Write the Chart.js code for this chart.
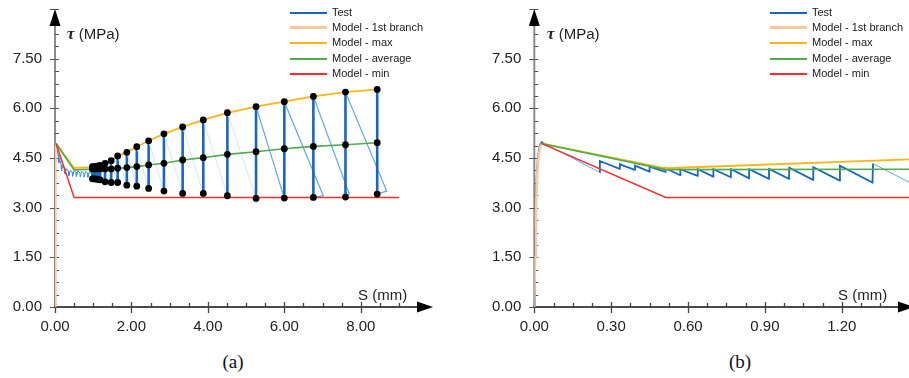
<!DOCTYPE html>
<html><head><meta charset="utf-8">
<script src="https://cdn.jsdelivr.net/npm/chart.js@4.4.1/dist/chart.umd.min.js"></script>
<style>
html,body{margin:0;padding:0;background:#fff;width:909px;height:378px;overflow:hidden;font-family:"Liberation Sans",Arial,sans-serif;}
canvas{position:absolute;top:0;}
#ca{left:0;} #cb{left:455px;}
.lbl{position:absolute;font-size:15px;line-height:18px;color:#222;white-space:nowrap;}
.lbl b{font-family:"Liberation Serif",serif;font-size:17px;}
.cap{position:absolute;font-family:"Liberation Serif","Times New Roman",serif;font-size:19px;line-height:22px;color:#111;transform:translateX(-50%);}
.leg{position:absolute;top:4.5px;font-size:11px;color:#222;}
.leg div{height:15.4px;line-height:15.4px;white-space:nowrap;}
.leg span.sw{display:inline-block;width:37px;vertical-align:middle;margin-right:5px;}
</style></head>
<body>
<canvas id="ca" width="455" height="345"></canvas>
<canvas id="cb" width="454" height="345"></canvas>

<div class="lbl" style="left:67px;top:25px;"><b><i>τ</i></b> (MPa)</div>
<div class="lbl" style="left:358px;top:286px;">S (mm)</div>
<div class="lbl" style="left:547px;top:25px;"><b><i>τ</i></b> (MPa)</div>
<div class="lbl" style="left:838px;top:286px;">S (mm)</div>
<div class="cap" style="left:233px;top:351px;">(a)</div>
<div class="cap" style="left:740px;top:351px;">(b)</div>

<div class="leg" id="lega" style="left:290px;"></div>
<div class="leg" id="legb" style="left:770px;"></div>

<script>
// ---------- shared model: first (elastic) branch ----------
const branchS = [0, 0.003, 0.006, 0.009, 0.012, 0.016, 0.021, 0.027];
const branchT = [0, 1.5, 2.6, 3.6, 4.1, 4.45, 4.75, 4.94];

// ---------- panel (a) ----------
const aXTicks = [0, 2, 4, 6, 8];
const yTicks = [0, 1.5, 3, 4.5, 6, 7.5];

const aCycleS = [0.98,1.03,1.08,1.13,1.18,1.31,1.47,1.64,1.88,2.14,2.45,2.85,3.34,3.88,4.51,5.26,6.00,6.76,7.60,8.43];
const aTauMax = [4.24,4.24,4.25,4.26,4.28,4.34,4.42,4.56,4.67,4.84,5.02,5.23,5.44,5.65,5.87,6.05,6.20,6.36,6.49,6.57];
const aTauAvg = [4.17,4.17,4.17,4.17,4.17,4.17,4.17,4.19,4.21,4.24,4.29,4.34,4.44,4.51,4.61,4.69,4.78,4.85,4.90,4.96];
const aTauMin = [3.87,3.87,3.86,3.85,3.84,3.78,3.76,3.76,3.68,3.65,3.58,3.50,3.43,3.43,3.36,3.28,3.29,3.31,3.32,3.41];

const aTestHeadS = [0,0.005,0.01,0.02,0.08,0.10,0.12,0.16,0.17,0.21,0.25,0.26,0.30,0.35,0.36,0.40,0.45,0.46,0.50,0.55,0.56,0.60,0.65,0.66,0.70,0.75,0.76,0.80,0.85,0.86,0.90,0.95];
const aTestHeadT = [0,2.5,4.3,4.95,4.62,4.35,4.48,4.30,4.12,4.28,4.18,4.02,4.18,4.10,3.96,4.13,4.07,3.95,4.12,4.06,3.94,4.11,4.05,3.93,4.10,4.04,3.92,4.10,4.04,3.92,4.09,4.03];
// overshoot reversal points of the last three cycles
const aOverS = [7.02, 7.70, 8.68];
const aOverT = [3.36, 3.41, 3.50];

const aMaxS = [0.027,0.5,0.98,1.18,1.31,1.47,1.64,1.88,2.14,2.45,2.85,3.34,3.88,4.51,5.26,6.00,6.76,7.60,8.43];
const aMaxT = [4.94,4.20,4.22,4.26,4.33,4.42,4.55,4.67,4.84,5.02,5.23,5.44,5.65,5.86,6.05,6.20,6.36,6.49,6.57];
const aAvgS = [0.027,0.5,0.98,1.47,1.88,2.14,2.45,2.85,3.34,3.88,4.51,5.26,6.00,6.76,7.60,8.43];
const aAvgT = [4.94,4.14,4.16,4.17,4.21,4.24,4.29,4.34,4.44,4.51,4.61,4.69,4.78,4.85,4.90,4.96];
const aMinS = [0.027,0.5,9.0];
const aMinT = [4.94,3.31,3.31];

// ---------- panel (b) ----------
const bXTicks = [0, 0.3, 0.6, 0.9, 1.2];
const bTestS = [0,0.002,0.004,0.006,0.009,0.013,0.018,0.024,0.030,0.035,
  0.255,0.256,0.333,0.334,0.392,0.393,0.449,0.450,0.511,0.512,0.569,0.570,0.637,0.638,0.698,0.699,
  0.767,0.768,0.838,0.839,0.915,0.916,0.994,0.995,1.088,1.089,1.192,1.193,1.320,1.322,1.47];
const bTestT = [0,1.2,2.4,3.3,3.9,4.4,4.75,4.93,4.98,4.96,
  4.07,4.41,4.17,4.31,4.14,4.27,4.09,4.24,4.08,4.19,3.98,4.16,3.96,4.16,3.94,4.16,
  3.92,4.16,3.89,4.16,3.87,4.17,3.87,4.21,3.84,4.22,3.82,4.27,3.76,4.33,3.74];
const bMaxS = [0.027,0.513,1.47];
const bMaxT = [4.94,4.19,4.46];
const bAvgS = [0.027,0.513,1.47];
const bAvgT = [4.94,4.15,4.16];
const bMinS = [0.027,0.513,1.47];
const bMinT = [4.94,3.31,3.31];

// ---------- styling ----------
const COL = {
  test:'#1766c2', testLight:'#58a9e8', testFaint:'#d2e6f8',
  branch:'#fbc79b', max:'#fdb515', avg:'#4dab4d', min:'#ff2b2b'
};
const FONT = '"Liberation Sans", Arial, sans-serif';

const pts = (xs, ys) => xs.map((v, i) => ({x: v, y: ys[i]}));

// build test path (a) from head + cycles
function buildTestA(){
  const s = aTestHeadS.slice(), t = aTestHeadT.slice();
  const n = aCycleS.length, k0 = n - aOverS.length;
  for (let i = 0; i < n; i++) {
    if (i >= k0) { s.push(aOverS[i-k0]); t.push(aOverT[i-k0]); }
    s.push(aCycleS[i]); t.push(aTauMin[i]);
    s.push(aCycleS[i]); t.push(aTauMax[i]);
  }
  return pts(s, t);
}
function dotsA(){
  const d = [];
  aCycleS.forEach((s, i) => { d.push({x:s,y:aTauMax[i]}, {x:s,y:aTauAvg[i]}, {x:s,y:aTauMin[i]}); });
  return d;
}

function segA(c){
  const x0 = c.p0.parsed.x, dx = c.p1.parsed.x - x0;
  if (Math.abs(dx) < 1e-9) return [COL.test, 2.6];
  if (x0 >= 0.97 && x0 < 5 && dx > 0) return [COL.testFaint, 1];
  if (x0 >= 5) return [COL.testLight, 1.2];
  return ['#3a8ddf', 1];
}
function segB(c){
  const dx = c.p1.parsed.x - c.p0.parsed.x;
  if (dx > 0.13) return [COL.testLight, 1];
  return [COL.test, 1.8];
}

const line = (data, color, width, order) => ({
  type:'line', data, borderColor: color, borderWidth: width, pointRadius: 0,
  fill: false, tension: 0, order
});

// axes with arrows and major/minor ticks, drawn from the chart's own scales
const axesPlugin = {
  id: 'axes',
  beforeDatasetsDraw(chart){
    const o = chart.options.plugins.axes;
    const {ctx, chartArea:{left, top, right, bottom}, scales:{x, y}} = chart;
    const tip = right + (o.arrowShift || 0);
    ctx.save();
    // y axis line
    ctx.strokeStyle = '#8c8c8c'; ctx.lineWidth = 2;
    ctx.beginPath(); ctx.moveTo(left, bottom + 1); ctx.lineTo(left, top + 16); ctx.stroke();
    // y ticks
    ctx.strokeStyle = '#555'; ctx.lineWidth = 1;
    for (let k = 0; k * o.yStep <= y.max + 1e-9; k++) {
      const py = Math.round(y.getPixelForValue(k * o.yStep)) + 0.5;
      const major = k % o.yRatio === 0;
      ctx.beginPath(); ctx.moveTo(left - (major ? 5 : 0), py); ctx.lineTo(left + 4, py); ctx.stroke();
    }
    // x axis line
    ctx.strokeStyle = '#4a4a4a'; ctx.lineWidth = 2;
    ctx.beginPath(); ctx.moveTo(left - 1, bottom); ctx.lineTo(tip - 14, bottom); ctx.stroke();
    ctx.lineWidth = 1.3; ctx.strokeStyle = '#444';
    for (let k = 0; k * o.xStep <= x.max - 0.4 * o.xStep; k++) {
      const px = Math.round(x.getPixelForValue(k * o.xStep)) + 0.5;
      if (px > tip - 16) break;
      const major = k % o.xRatio === 0;
      ctx.beginPath(); ctx.moveTo(px, bottom - (major ? 5 : 4)); ctx.lineTo(px, bottom + (major ? 6 : 1)); ctx.stroke();
    }
    // arrowheads
    ctx.fillStyle = '#000';
    ctx.beginPath(); ctx.moveTo(tip, bottom); ctx.lineTo(tip - 16, bottom - 5.5); ctx.lineTo(tip - 16, bottom + 5.5); ctx.closePath(); ctx.fill();
    ctx.beginPath(); ctx.moveTo(left, top); ctx.lineTo(left - 5.5, top + 17); ctx.lineTo(left + 5.5, top + 17); ctx.closePath(); ctx.fill();
    ctx.restore();
  }
};

function makeChart(id, cfg){
  return new Chart(document.getElementById(id), {
    type: 'line',
    data: { datasets: cfg.datasets },
    options: {
      responsive: false, animation: false, events: [],
      layout: { padding: { top: 9, right: cfg.padRight, left: 0, bottom: 0 } },
      plugins: { legend: { display: false }, tooltip: { enabled: false }, axes: cfg.axes },
      scales: {
        x: {
          type: 'linear', min: 0, max: cfg.xMax,
          grid: { display: false, drawTicks: false }, border: { display: false },
          afterBuildTicks: s => { s.ticks = cfg.xTicks.map(v => ({value: v})); },
          afterFit: s => { s.height = 38; s.paddingLeft = 0; s.paddingRight = 0; },
          ticks: { padding: 11, autoSkip: false, maxRotation: 0, color: '#222',
                   font: { family: FONT, size: 15 }, callback: v => Number(v).toFixed(2) }
        },
        y: {
          type: 'linear', min: 0, max: 9,
          grid: { display: false, drawTicks: false }, border: { display: false },
          afterBuildTicks: s => { s.ticks = yTicks.map(v => ({value: v})); },
          afterFit: s => { s.width = cfg.yWidth; s.paddingTop = 0; s.paddingBottom = 0; },
          ticks: { padding: 13, autoSkip: false, color: '#222',
                   font: { family: FONT, size: 15 }, callback: v => Number(v).toFixed(2) }
        }
      }
    },
    plugins: [axesPlugin]
  });
}

const segOpts = f => ({ borderColor: c => f(c)[0], borderWidth: c => f(c)[1] });

makeChart('ca', {
  xMax: 9.89, padRight: 22, yWidth: 55, xTicks: aXTicks,
  axes: { xStep: 0.5, xRatio: 4, yStep: 0.375, yRatio: 4, arrowShift: 0 },
  datasets: [
    { type:'scatter', data: dotsA(), pointRadius: 3.4, pointBackgroundColor: '#000', pointBorderWidth: 0, showLine: false, order: 0 },
    line(pts(aMinS, aMinT), COL.min, 1.5, 1),
    line(pts(aAvgS, aAvgT), COL.avg, 1.6, 2),
    line(pts(aMaxS, aMaxT), COL.max, 1.8, 3),
    line(pts(branchS, branchT), COL.branch, 2.5, 4),
    Object.assign(line(buildTestA(), COL.test, 1.5, 5), { segment: segOpts(segA) })
  ]
});

makeChart('cb', {
  xMax: 1.4625, padRight: 0, yWidth: 79.3, xTicks: bXTicks,
  axes: { xStep: 0.075, xRatio: 4, yStep: 0.375, yRatio: 4, arrowShift: 5 },
  datasets: [
    line(pts(bMinS, bMinT), COL.min, 1.5, 1),
    line(pts(bAvgS, bAvgT), COL.avg, 1.6, 2),
    line(pts(bMaxS, bMaxT), COL.max, 1.8, 3),
    line(pts(branchS, branchT), COL.branch, 2.5, 4),
    Object.assign(line(pts(bTestS, bTestT), COL.test, 1.8, 5), { segment: segOpts(segB) })
  ]
});

// legends (HTML text)
const legendItems = [
  ['Test', COL.test, 2],
  ['Model - 1st branch', COL.branch, 3],
  ['Model - max', COL.max, 2],
  ['Model - average', COL.avg, 2],
  ['Model - min', COL.min, 2]
];
['lega','legb'].forEach(id => {
  const el = document.getElementById(id);
  legendItems.forEach(([t, c, w]) => {
    const row = document.createElement('div');
    const sw = document.createElement('span'); sw.className = 'sw';
    sw.style.borderTop = w + 'px solid ' + c;
    row.appendChild(sw);
    row.appendChild(document.createTextNode(t));
    el.appendChild(row);
  });
});
</script>
</body></html>
